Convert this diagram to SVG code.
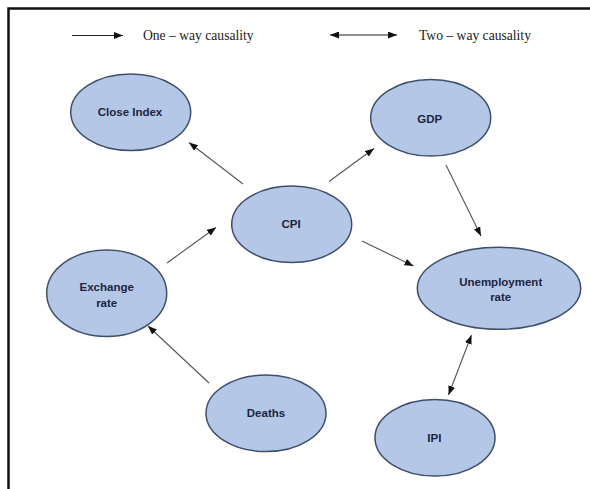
<svg xmlns="http://www.w3.org/2000/svg" width="590" height="489" viewBox="0 0 590 489">
<defs>
<marker id="ah" markerUnits="userSpaceOnUse" markerWidth="9" markerHeight="7" refX="9" refY="3.5" orient="auto-start-reverse" viewBox="0 0 9 7">
<path d="M0,0 L9,3.5 L0,7 z" fill="#111"/>
</marker>
<style>
.node ellipse{fill:#b4c7e7;stroke:#3f4f6b;stroke-width:1.5}
.node text{font-family:"Liberation Sans",Arial,sans-serif;font-weight:bold;font-size:11.5px;fill:#1c2540;text-anchor:middle}
.conn line{stroke:#555;stroke-width:1.1;fill:none}
.legend text{font-family:"Liberation Serif","Times New Roman",serif;font-size:13.6px;fill:#222}
.legend line{stroke:#222;stroke-width:1.1}
</style>
</defs>
<rect width="590" height="489" fill="#fff"/>
<path d="M8.5,489 V8.5 H590" fill="none" stroke="#111" stroke-width="2.5"/>
<g id="legend" class="legend">
<line x1="72" y1="35.5" x2="123" y2="35.5" marker-end="url(#ah)"/>
<text x="143" y="39.5">One – way causality</text>
<line x1="330" y1="35" x2="397" y2="35" marker-start="url(#ah)" marker-end="url(#ah)"/>
<text x="419" y="39.5">Two – way causality</text>
</g>
<g id="connectors" class="conn">
<line x1="243" y1="184" x2="189" y2="142.5" marker-end="url(#ah)"/>
<line x1="329" y1="181.5" x2="374" y2="148.5" marker-end="url(#ah)"/>
<line x1="446" y1="165" x2="481" y2="236" marker-end="url(#ah)"/>
<line x1="362" y1="241" x2="413.5" y2="266" marker-end="url(#ah)"/>
<line x1="167" y1="263" x2="216" y2="227.5" marker-end="url(#ah)"/>
<line x1="209" y1="383" x2="148" y2="326" marker-end="url(#ah)"/>
<line x1="448.5" y1="395" x2="471.5" y2="335" marker-start="url(#ah)" marker-end="url(#ah)"/>
</g>
<g id="close-index" class="node"><ellipse cx="130.7" cy="112.3" rx="60" ry="38.3"/><text x="130" y="115.7">Close Index</text></g>
<g id="gdp" class="node"><ellipse cx="430.7" cy="117.7" rx="60" ry="38.3"/><text x="429.7" y="123.3">GDP</text></g>
<g id="cpi" class="node"><ellipse cx="291.7" cy="224.3" rx="60" ry="38.3"/><text x="291" y="228.3">CPI</text></g>
<g id="exchange-rate" class="node"><ellipse cx="106.7" cy="293.3" rx="60" ry="43.3"/><text x="106.7" y="291.3">Exchange</text><text x="106.7" y="307.3">rate</text></g>
<g id="deaths" class="node"><ellipse cx="266" cy="413.3" rx="60" ry="38.3"/><text x="266" y="417.3">Deaths</text></g>
<g id="unemployment-rate" class="node"><ellipse cx="499" cy="288.3" rx="81.7" ry="41"/><text x="500.7" y="285.7">Unemployment</text><text x="500.7" y="301.3">rate</text></g>
<g id="ipi" class="node"><ellipse cx="435" cy="437.7" rx="60" ry="38.3"/><text x="434.3" y="441.7">IPI</text></g>
</svg>
